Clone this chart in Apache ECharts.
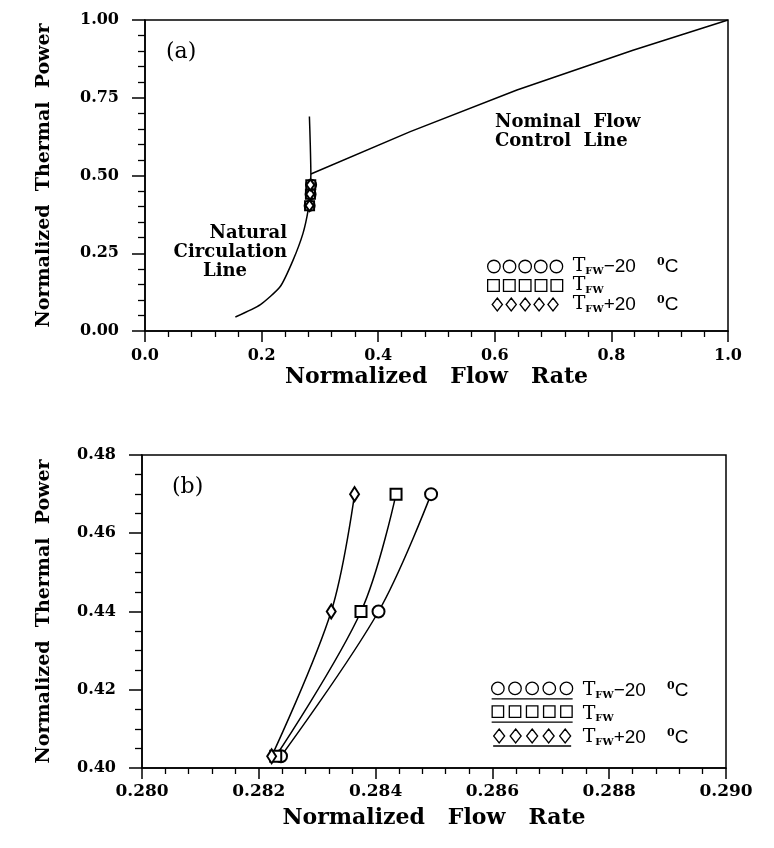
<!DOCTYPE html>
<html>
<head>
<meta charset="utf-8">
<script src="https://cdn.jsdelivr.net/npm/echarts@6/dist/echarts.min.js"></script>
<style>
html, body { margin: 0; padding: 0; background: #fff; }
#main { width: 774px; height: 848px; }
</style>
</head>
<body>
<div id="main"></div>
<script>
// (a) natural circulation line and nominal flow control line: [flow, power]
var natCirc = [[0.155, 0.045], [0.198, 0.085], [0.232, 0.143], [0.254, 0.228], [0.271, 0.314],
  [0.280, 0.390], [0.2835, 0.450], [0.2845, 0.505], [0.2835, 0.600], [0.282, 0.690]];
var nomFlow = [[0.2845, 0.505], [0.455, 0.641], [0.638, 0.775], [0.837, 0.903], [1.0, 1.0]];

// feedwater temperature cases
var power = [0.403, 0.44, 0.47];
var flowMinus20 = [0.28238, 0.28405, 0.28495];
var flowNominal = [0.28229, 0.28375, 0.28435];
var flowPlus20 = [0.28222, 0.28324, 0.28364];
var caseNames = ['TFW-20', 'TFW', 'TFW+20'];
var caseSuffix = ['\u221220', '', '+20'];

// axis ticks
var xTicksA = ['0.0', '0.2', '0.4', '0.6', '0.8', '1.0'];
var yTicksA = ['0.00', '0.25', '0.50', '0.75', '1.00'];
var xTicksB = ['0.280', '0.282', '0.284', '0.286', '0.288', '0.290'];
var yTicksB = ['0.40', '0.42', '0.44', '0.46', '0.48'];

var FONT = 'DejaVu Serif';
var chart = echarts.init(document.getElementById('main'), null, { renderer: 'canvas' });

function pairs(xs, ys) {
  return xs.map(function (x, i) { return [x, ys[i]]; });
}
function pick(list) {
  return function (v, i) { return list[i]; };
}

// legend icons: five symbols in a row (b: with an underline)
function iconRow(kind, w, under) {
  var p = '';
  for (var i = 0; i < 5; i++) {
    var cx = 7 + i * w;
    if (kind == 'circle') {
      p += 'M' + (cx - 6) + ',7 A6,6 0 1 1 ' + (cx + 6) + ',7 A6,6 0 1 1 ' + (cx - 6) + ',7 Z ';
    } else if (kind == 'rect') {
      p += 'M' + (cx - 5.5) + ',1.5 L' + (cx + 5.5) + ',1.5 L' + (cx + 5.5) + ',12.5 L' + (cx - 5.5) + ',12.5 Z ';
    } else {
      p += 'M' + cx + ',0 L' + (cx + 5.5) + ',7 L' + cx + ',14 L' + (cx - 5.5) + ',7 Z ';
    }
  }
  if (under) p += 'M1,17 L' + (13 + 4 * w) + ',17';
  return 'path://' + p;
}
var kinds = ['circle', 'rect', 'diamond'];

var rich = {
  t: { fontFamily: FONT, fontSize: 19, lineHeight: 19, color: '#000', padding: [0, 0, 0, 5] },
  s: { fontFamily: FONT, fontWeight: 'bold', fontSize: 10, lineHeight: 10, verticalAlign: 'bottom', color: '#000' },
  n: { fontFamily: 'Liberation Sans', fontSize: 19, lineHeight: 19, color: '#000' },
  u: { fontFamily: FONT, fontWeight: 'bold', fontSize: 11, lineHeight: 11, verticalAlign: 'top', color: '#000' }
};
function legendText(name) {
  var suf = caseSuffix[caseNames.indexOf(name)];
  return '{t|T}{s|FW}' + (suf ? '{n|' + suf + '    }{u|0}{n|C}' : '');
}

function axisBase(extra) {
  var o = {
    type: 'value',
    nameLocation: 'middle',
    nameTextStyle: { fontFamily: FONT, fontWeight: 'bold', fontSize: 22, color: '#000' },
    axisLine: { onZero: false, lineStyle: { color: '#000', width: 1.5 } },
    axisTick: { length: 11, lineStyle: { color: '#000', width: 1.5 } },
    minorTick: { show: true, length: 6, lineStyle: { color: '#000', width: 1.3 } },
    axisLabel: { fontFamily: FONT, fontWeight: 'bold', fontSize: 16, color: '#000' },
    splitLine: { show: false }
  };
  for (var k in extra) {
    if (typeof extra[k] == 'object' && o[k]) Object.assign(o[k], extra[k]);
    else o[k] = extra[k];
  }
  return o;
}

var symbols = ['emptyCircle', 'emptyRect', 'emptyDiamond'];
var symSizeA = [10, 9, [8, 11]];
var symSizeB = [12, 11, [9, 14]];
var cases = [flowMinus20, flowNominal, flowPlus20];

var series = [
  { name: 'Natural Circulation Line', type: 'line', xAxisIndex: 0, yAxisIndex: 0, data: natCirc,
    symbol: 'none', smooth: 0.2, lineStyle: { color: '#000', width: 1.5 } },
  { name: 'Nominal Flow Control Line', type: 'line', xAxisIndex: 0, yAxisIndex: 0, data: nomFlow,
    symbol: 'none', lineStyle: { color: '#000', width: 1.5 } }
];
cases.forEach(function (flows, k) {
  series.push({ name: caseNames[k], type: 'line', xAxisIndex: 0, yAxisIndex: 0, data: pairs(flows, power),
    symbol: symbols[k], symbolSize: symSizeA[k], showSymbol: true, z: 3,
    itemStyle: { color: '#000', borderWidth: 1.4 }, lineStyle: { color: '#000', width: 1.2 } });
  series.push({ name: caseNames[k], type: 'line', xAxisIndex: 1, yAxisIndex: 1, data: pairs(flows, power),
    symbol: symbols[k], symbolSize: symSizeB[k], showSymbol: true, smooth: 0.35, z: 3,
    itemStyle: { color: '#000', borderWidth: 1.4 }, lineStyle: { color: '#000', width: 1.5 } });
});

var option = {
  backgroundColor: '#fff',
  animation: false,
  grid: [
    { left: 145, right: 46, top: 20, height: 311, show: true, borderColor: '#000', borderWidth: 1.5, backgroundColor: 'transparent' },
    { left: 142, right: 48, top: 455, height: 313, show: true, borderColor: '#000', borderWidth: 1.5, backgroundColor: 'transparent' }
  ],
  xAxis: [
    axisBase({ gridIndex: 0, min: 0, max: 1, interval: 0.2, name: 'Normalized   Flow   Rate', nameGap: 35,
      minorTick: { splitNumber: 5 }, axisLabel: { margin: 17, formatter: pick(xTicksA) } }),
    axisBase({ gridIndex: 1, min: 0.28, max: 0.29, interval: 0.002, name: 'Normalized   Flow   Rate', nameGap: 39,
      minorTick: { splitNumber: 5 }, axisLabel: { margin: 15, fontSize: 17, formatter: pick(xTicksB) } })
  ],
  yAxis: [
    axisBase({ gridIndex: 0, min: 0, max: 1, interval: 0.25, name: 'Normalized  Thermal  Power', nameGap: 91,
      nameTextStyle: { fontSize: 19 },
      axisTick: { length: 13 }, minorTick: { splitNumber: 5, length: 7 }, axisLabel: { margin: 26, formatter: pick(yTicksA) } }),
    axisBase({ gridIndex: 1, min: 0.4, max: 0.48, interval: 0.02, name: 'Normalized  Thermal  Power', nameGap: 88,
      nameTextStyle: { fontSize: 19 },
      axisTick: { length: 13 }, minorTick: { splitNumber: 4, length: 7 }, axisLabel: { margin: 26, formatter: pick(yTicksB) } })
  ],
  legend: [
    { orient: 'vertical', left: 482, top: 252, itemWidth: 75, itemHeight: 13, itemGap: 0,
      selectedMode: false,
      data: caseNames.map(function (n, k) { return { name: n, icon: iconRow(kinds[k], 15, false) }; }),
      itemStyle: { color: '#fff', borderColor: '#000', borderWidth: 1.3 },
      formatter: legendText, textStyle: { rich: rich } },
    { orient: 'vertical', left: 486, top: 676, itemWidth: 81, itemHeight: 17, itemGap: 4.5,
      selectedMode: false,
      data: caseNames.map(function (n, k) { return { name: n, icon: iconRow(kinds[k], 16.5, true) }; }),
      itemStyle: { color: '#fff', borderColor: '#000', borderWidth: 1.3 },
      formatter: legendText, textStyle: { rich: rich } }
  ],
  graphic: [
    { type: 'text', x: 166, y: 52, style: { text: '(a)', fontFamily: FONT, fontSize: 22, fill: '#000', verticalAlign: 'middle' } },
    { type: 'text', x: 172, y: 487, style: { text: '(b)', fontFamily: FONT, fontSize: 22, fill: '#000', verticalAlign: 'middle' } },
    { type: 'text', x: 495, y: 113, style: { text: 'Nominal  Flow\nControl  Line', fontFamily: FONT, fontWeight: 'bold', fontSize: 18, lineHeight: 19, fill: '#000' } },
    { type: 'text', x: 287, y: 233, style: { text: 'Natural', fontFamily: FONT, fontWeight: 'bold', fontSize: 18, fill: '#000', align: 'right', verticalAlign: 'middle' } },
    { type: 'text', x: 287, y: 252, style: { text: 'Circulation', fontFamily: FONT, fontWeight: 'bold', fontSize: 18, fill: '#000', align: 'right', verticalAlign: 'middle' } },
    { type: 'text', x: 203, y: 271, style: { text: 'Line', fontFamily: FONT, fontWeight: 'bold', fontSize: 18, fill: '#000', align: 'left', verticalAlign: 'middle' } }
  ],
  series: series
};

chart.setOption(option);
</script>
</body>
</html>
